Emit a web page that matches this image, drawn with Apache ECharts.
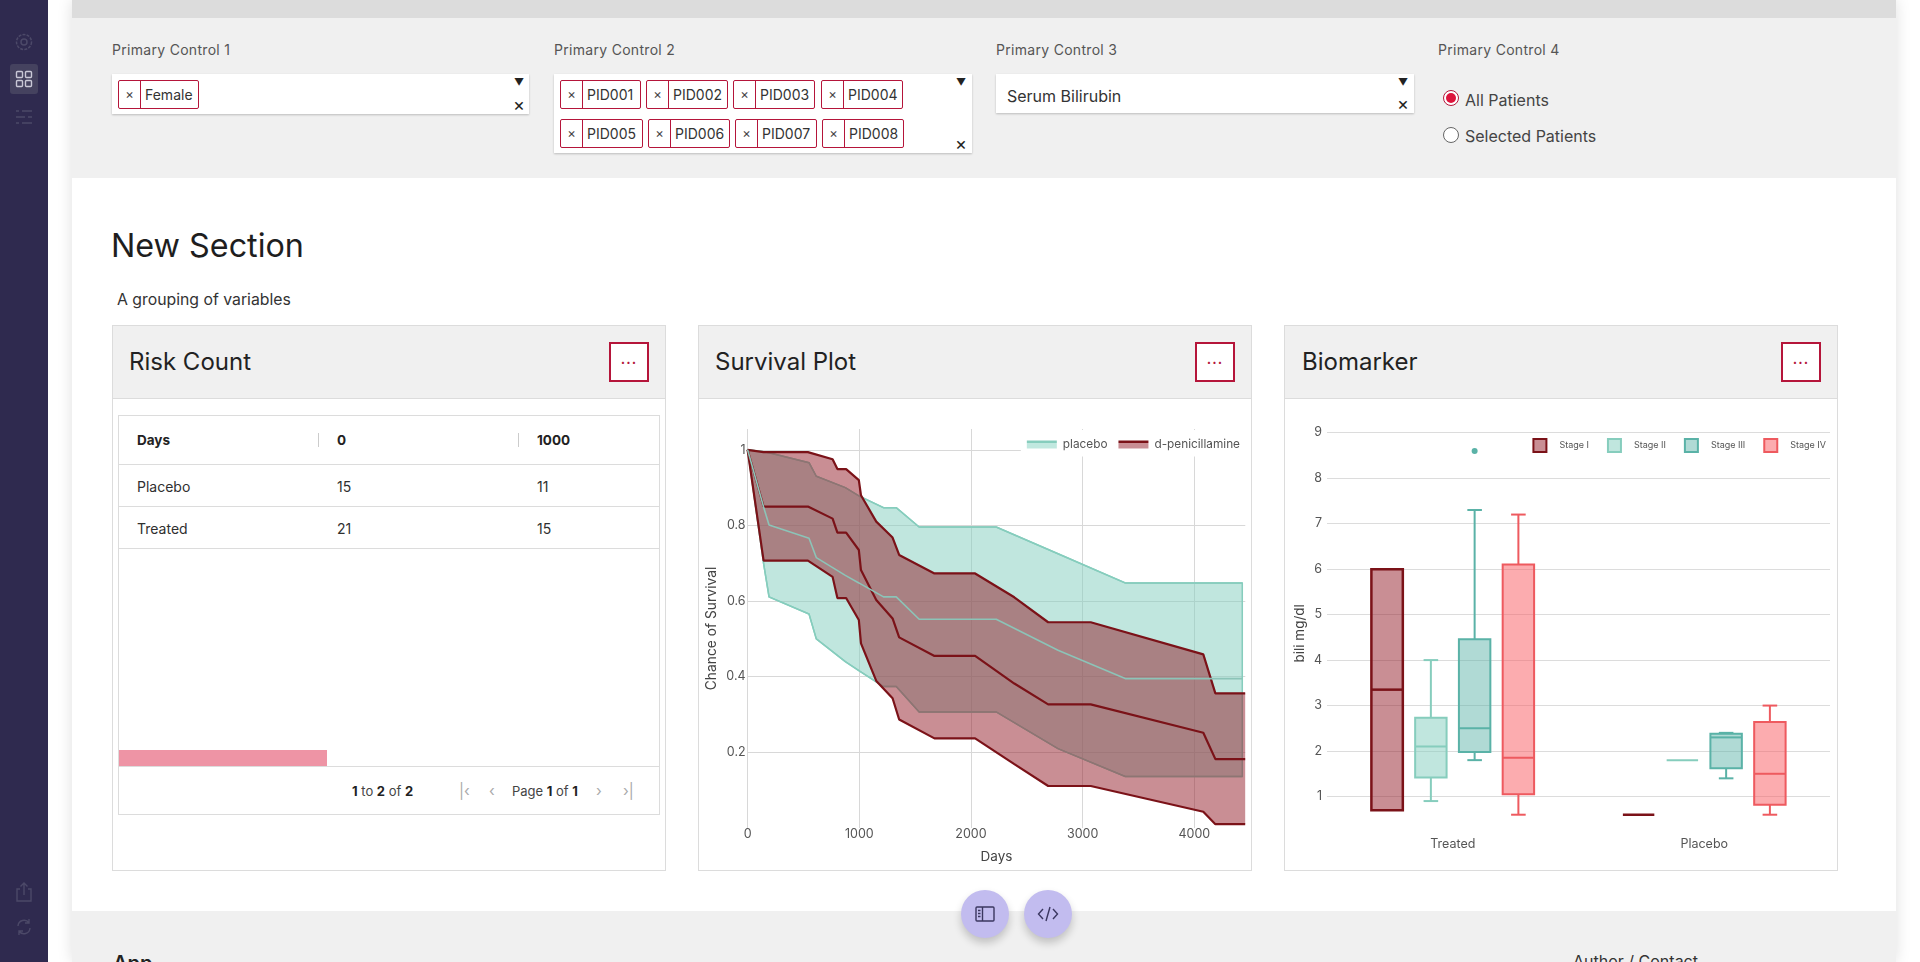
<!DOCTYPE html>
<html>
<head>
<meta charset="utf-8">
<title>Dashboard</title>
<script src="https://cdn.jsdelivr.net/npm/echarts@6/dist/echarts.min.js"></script>
<style>
html,body{margin:0;padding:0;width:1920px;height:962px;overflow:hidden;background:#fff;font-family:Inter,"Noto Sans",sans-serif;color:#2b2b2b}
div,span{box-sizing:border-box}
.abs,.abs *{position:absolute}
.t{white-space:nowrap;line-height:1}
#side{left:0;top:0;width:48px;height:962px;background:#2f2a4f}
#side .sel{left:10px;top:64px;width:28px;height:30px;background:#45425f;border-radius:3px}
#main{left:72px;top:0;width:1824px;height:962px;background:#fff;box-shadow:0 0 14px rgba(0,0,0,.13)}
#topbar{left:72px;top:0;width:1824px;height:18px;background:#dcdcdc}
#ctrl{left:72px;top:18px;width:1824px;height:160px;background:#f0f0f0}
#foot{left:72px;top:911px;width:1824px;height:51px;background:#f0f0f0}
.lab{font-size:14px;color:#555;top:43px;letter-spacing:.3px}
.select{background:#fff;box-shadow:0 1px 2px rgba(0,0,0,.22)}
.chip{height:29px;border:1px solid #b5153a;border-radius:2px;background:#fff}
.chip i{font-style:normal;left:0;top:0;bottom:0;width:21px;border-right:1px solid #b5153a;text-align:center;font-size:13px;line-height:27px;color:#444}
.chip b{font-weight:400;left:26px;top:0;font-size:14px;line-height:27px;color:#333;white-space:nowrap}
.arrow{font-size:10px;color:#222}
.clr{font-size:18px;color:#222}
.radio{width:16px;height:16px;border-radius:50%;border:1px solid #666;background:#fff}
.radio.on{border-color:#b5153a}
.radio.on:after{content:"";position:absolute;left:2px;top:2px;width:10px;height:10px;border-radius:50%;background:#dc143c}
.card{top:325px;height:546px;width:554px;border:1px solid #dcdcdc;background:#fff}
.card .head{left:0;top:0;right:0;height:73px;background:#f0f0f0;border-bottom:1px solid #dcdcdc}
.card .title{left:16px;top:24px;font-size:24px;color:#222}
.card .btn{top:16px;right:16px;width:40px;height:40px;border:2px solid #b5153a;background:#fff;color:#b5153a;text-align:center;font-size:14px;line-height:30px;letter-spacing:1px;font-weight:600}
.line{background:#dcdcdc;height:1px}
.cell{font-size:14px;color:#2f2f2f}
.hd{font-size:13.5px;font-weight:700;color:#222}
.pg{font-size:13px;color:#444}
.pg b{position:static;font-weight:700;color:#222}
.nav{color:#aaa;font-size:15px}
.fab{top:890px;width:48px;height:48px;border-radius:50%;background:#c2bcef;box-shadow:0 5px 9px rgba(0,0,0,.2)}
.chart{top:399px;height:470px}
</style>
</head>
<body>
<div class="abs" style="left:0;top:0;width:1920px;height:962px">
  <div id="main"></div>
  <div id="topbar"></div>
  <div id="ctrl"></div>
  <div id="foot"></div>
  <div id="side">
    <div class="sel"></div>
    <svg style="left:14px;top:32px" width="20" height="20" viewBox="0 0 20 20" fill="none" stroke="#4c4968" stroke-width="1.5"><circle cx="10" cy="10" r="3"/><circle cx="10" cy="10" r="7.5" stroke-dasharray="3 1.2"/></svg>
    <svg style="left:15px;top:70px" width="18" height="18" viewBox="0 0 18 18" fill="none" stroke="#c9c8d6" stroke-width="1.4"><rect x="1.5" y="1.5" width="6" height="6" rx="1"/><rect x="10.5" y="1.5" width="6" height="6" rx="1"/><rect x="1.5" y="10.5" width="6" height="6" rx="1"/><rect x="10.5" y="10.5" width="6" height="6" rx="1"/></svg>
    <svg style="left:15px;top:108px" width="18" height="18" viewBox="0 0 18 18" fill="none" stroke="#4c4968" stroke-width="1.4"><path d="M1 3h3M7 3h10M1 9h9M13 9h4M1 15h3M7 15h10"/></svg>
    <svg style="left:15px;top:882px" width="18" height="20" viewBox="0 0 18 20" fill="none" stroke="#4c4968" stroke-width="1.4"><path d="M5 7H2v12h14V7h-3M9 13V1M5.5 4.5L9 1l3.500 3.500"/></svg>
    <svg style="left:15px;top:918px" width="18" height="18" viewBox="0 0 18 18" fill="none" stroke="#4c4968" stroke-width="1.4"><path d="M3 8a6 6 0 0 1 11-3M15 10a6 6 0 0 1-11 3M14 1v4h-4M4 17v-4h4"/></svg>
  </div>

  <span class="t lab" style="left:112px">Primary Control 1</span>
  <span class="t lab" style="left:554px">Primary Control 2</span>
  <span class="t lab" style="left:996px">Primary Control 3</span>
  <span class="t lab" style="left:1438px">Primary Control 4</span>

  <div class="select" style="left:112px;top:74px;width:417px;height:40px"></div>
  <div class="chip" style="left:118px;top:80px;width:81px"><i>×</i><b>Female</b></div>
  <span class="t arrow" style="left:514px;top:77px">▼</span><span class="t clr" style="left:513px;top:96px">×</span>

  <div class="select" style="left:554px;top:74px;width:418px;height:79px"></div>
  <div class="chip" style="left:560px;top:80px;width:81px"><i>×</i><b>PID001</b></div>
  <div class="chip" style="left:646px;top:80px;width:82px"><i>×</i><b>PID002</b></div>
  <div class="chip" style="left:733px;top:80px;width:82px"><i>×</i><b>PID003</b></div>
  <div class="chip" style="left:821px;top:80px;width:82px"><i>×</i><b>PID004</b></div>
  <div class="chip" style="left:560px;top:119px;width:83px"><i>×</i><b>PID005</b></div>
  <div class="chip" style="left:648px;top:119px;width:82px"><i>×</i><b>PID006</b></div>
  <div class="chip" style="left:735px;top:119px;width:82px"><i>×</i><b>PID007</b></div>
  <div class="chip" style="left:822px;top:119px;width:82px"><i>×</i><b>PID008</b></div>
  <span class="t arrow" style="left:956px;top:77px">▼</span><span class="t clr" style="left:955px;top:135px">×</span>

  <div class="select" style="left:996px;top:74px;width:418px;height:39px"></div>
  <span class="t" style="left:1007px;top:88px;font-size:16px;color:#333">Serum Bilirubin</span>
  <span class="t arrow" style="left:1398px;top:77px">▼</span><span class="t clr" style="left:1397px;top:95px">×</span>

  <div class="radio on" style="left:1443px;top:90px"></div>
  <span class="t" style="left:1465px;top:92px;font-size:16px;color:#444">All Patients</span>
  <div class="radio" style="left:1443px;top:127px"></div>
  <span class="t" style="left:1465px;top:128px;font-size:16px;color:#444">Selected Patients</span>

  <span class="t" style="left:111px;top:230px;font-size:32.3px;color:#1e1e1e">New Section</span>
  <span class="t" style="left:117px;top:292px;font-size:15.8px;color:#333">A grouping of variables</span>

  <div class="card" style="left:112px">
    <div class="head"></div><span class="t title">Risk Count</span><div class="btn">...</div>
  </div>
  <div class="card" style="left:698px">
    <div class="head"></div><span class="t title">Survival Plot</span><div class="btn">...</div>
  </div>
  <div class="card" style="left:1284px">
    <div class="head"></div><span class="t title" style="left:17px">Biomarker</span><div class="btn">...</div>
  </div>

  <!-- table of the risk card -->
  <div style="left:118px;top:415px;width:542px;height:400px;border:1px solid #dcdcdc"></div>
  <div class="line" style="left:118px;top:464px;width:542px"></div>
  <div class="line" style="left:118px;top:506px;width:542px"></div>
  <div class="line" style="left:118px;top:548px;width:542px"></div>
  <div class="line" style="left:118px;top:766px;width:542px"></div>
  <div style="left:318px;top:433px;width:1px;height:14px;background:#ccc"></div>
  <div style="left:518px;top:433px;width:1px;height:14px;background:#ccc"></div>
  <span class="t hd" style="left:137px;top:434px">Days</span>
  <span class="t hd" style="left:337px;top:434px">0</span>
  <span class="t hd" style="left:537px;top:434px">1000</span>
  <span class="t cell" style="left:137px;top:480px">Placebo</span>
  <span class="t cell" style="left:337px;top:480px">15</span>
  <span class="t cell" style="left:537px;top:480px">11</span>
  <span class="t cell" style="left:137px;top:522px">Treated</span>
  <span class="t cell" style="left:337px;top:522px">21</span>
  <span class="t cell" style="left:537px;top:522px">15</span>
  <div style="left:119px;top:750px;width:208px;height:16px;background:#ee94a5"></div>
  <span class="t pg" style="left:352px;top:785px"><b>1</b> to <b>2</b> of <b>2</b></span>
  <span class="t nav" style="left:459px;top:783px">|‹</span>
  <span class="t nav" style="left:489px;top:783px">‹</span>
  <span class="t pg" style="left:512px;top:785px">Page <b>1</b> of <b>1</b></span>
  <span class="t nav" style="left:596px;top:783px">›</span>
  <span class="t nav" style="left:623px;top:783px">›|</span>

  <div id="survival" class="chart" style="left:699px;width:551px"></div>
  <div id="biomarker" class="chart" style="left:1286px;width:551px"></div>

  <div class="fab" style="left:961px"></div>
  <div class="fab" style="left:1024px"></div>
  <svg style="left:975px;top:906px" width="20" height="16" viewBox="0 0 20 16" fill="none" stroke="#3b3760" stroke-width="1.4"><rect x="1" y="1" width="18" height="14" rx="1"/><path d="M7.500 1v14M3 4.500h2.500M3 7.500h2.500M3 10.500h2.500"/></svg>
  <svg style="left:1037px;top:906px" width="22" height="16" viewBox="0 0 22 16" fill="none" stroke="#3b3760" stroke-width="1.4"><path d="M6 3L1.500 8 6 13M16 3l4.500 5-4.500 5M13 1L9 15"/></svg>

  <span class="t" style="left:113px;top:953px;font-size:20px;font-weight:600;color:#222">App</span>
  <span class="t" style="left:1573px;top:953px;font-size:16px;color:#333">Author / Contact</span>
</div>

<script>
// survival curves
var placeboDays  = [0, 143, 192, 550, 615, 875, 996, 1217, 1331, 1536, 2226, 2779, 3381, 4429];
var placeboUpper = [1, .995, .992, .966, .93, .90, .878, .847, .847, .796, .796, .725, .648, .648];
var placeboMean  = [1, .849, .801, .766, .715, .668, .648, .611, .611, .552, .552, .47, .395, .395];
var placeboLower = [1, .70, .611, .566, .50, .44, .416, .374, .374, .307, .307, .21, .136, .136];

var penDays  = [0, 143, 540, 761, 804, 882, 996, 1015, 1152, 1298, 1357, 1673, 2037, 2388, 2691, 3072, 4080, 4188, 4455];
var penUpper = [1, .994, .994, .975, .949, .949, .92, .88, .81, .768, .722, .673, .673, .61, .544, .544, .459, .356, .356];
var penMean  = [1, .85, .85, .818, .781, .781, .735, .682, .603, .554, .504, .455, .455, .382, .327, .327, .252, .182, .182];
var penLower = [1, .707, .707, .664, .608, .608, .55, .488, .389, .343, .287, .237, .237, .169, .111, .111, .043, .01, .01];

// biomarker boxes: min, q1, median, q3, max for Treated and Placebo
var arms = ['Treated', 'Placebo'];
var stageNames = ['Stage I', 'Stage II', 'Stage III', 'Stage IV'];
var stageI   = [[.7, .7, 3.35, 6, 6], [.6, .6, .6, .6, .6]];
var stageII  = [[.9, 1.42, 2.1, 2.73, 4], [1.8, 1.8, 1.8, 1.8, 1.8]];
var stageIII = [[1.8, 1.98, 2.5, 4.46, 7.3], [1.4, 1.62, 2.3, 2.38, 2.4]];
var stageIV  = [[.6, 1.05, 1.85, 6.1, 7.2], [.6, .82, 1.5, 2.64, 3]];
var stageIIIOutliers = [[0, 8.6]];

var font = 'Inter';
var tealLine = '#86cdbd', tealFill = 'rgba(129,205,190,0.5)', tealIcon = '#c0e8df';
var redLine = '#7b1218', redFill = 'rgba(147,29,41,0.5)', redIcon = '#c98e94';

function xy(days, vals) {
    return days.map(function (d, i) { return [d, vals[i]]; });
}
function band(name, days, upper, lower, color, z, edge) {
    return {
        name: name, type: 'custom', silent: true, z: z, data: [[0, 0]],
        renderItem: function (params, api) {
            var pts = xy(days, upper).concat(xy(days, lower).reverse()).map(function (p) { return api.coord(p); });
            return { type: 'polygon', shape: { points: pts }, style: { fill: color, stroke: edge, lineWidth: 1.5 } };
        }
    };
}
function curve(name, days, vals, color, width, z) {
    return { name: name, type: 'line', z: z, data: xy(days, vals), symbol: 'none', silent: true, lineStyle: { color: color, width: width } };
}
function legendIcon(line, fill) {
    return new echarts.graphic.LinearGradient(0, 0, 0, 1, [
        { offset: 0, color: line }, { offset: .3, color: line }, { offset: .3, color: fill }, { offset: 1, color: fill }
    ]);
}

var survival = echarts.init(document.getElementById('survival'));
survival.setOption({
    animation: false,
    grid: { left: 48.6, top: 30, right: 4.7, bottom: 41, outerBoundsMode: 'none' },
    legend: {
        right: 4, top: 31, padding: [8.5, 6, 6, 6], backgroundColor: '#fff',
        itemWidth: 30, itemHeight: 8, itemGap: 11,
        textStyle: { fontFamily: font, fontSize: 11.8, color: '#555', padding: [0, 0, 0, 1] },
        data: [
            { name: 'placebo', icon: 'rect', itemStyle: { color: legendIcon(tealLine, tealIcon) } },
            { name: 'd-penicillamine', icon: 'rect', itemStyle: { color: legendIcon(redLine, redIcon) } }
        ]
    },
    xAxis: {
        type: 'value', min: 0, max: 4456, interval: 1000,
        name: 'Days', nameLocation: 'middle', nameGap: 22, nameMoveOverlap: false,
        nameTextStyle: { fontFamily: font, fontSize: 13.5, color: '#444' },
        axisLine: { show: false }, axisTick: { show: false },
        axisLabel: { fontFamily: font, fontSize: 12.5, color: '#555', margin: 0, showMaxLabel: false, formatter: function (v) { return '' + v; } },
        splitLine: { showMaxLine: false, lineStyle: { color: '#d8d8d8' } }
    },
    yAxis: {
        type: 'value', min: 0, max: 1.055, interval: .2,
        name: 'Chance of Survival', nameLocation: 'middle', nameGap: 29, nameMoveOverlap: false,
        nameTextStyle: { fontFamily: font, fontSize: 13.8, color: '#444' },
        axisLine: { show: false }, axisTick: { show: false },
        axisLabel: { fontFamily: font, fontSize: 12.5, color: '#555', margin: 2, showMinLabel: false, showMaxLabel: false },
        splitLine: { showMinLine: false, showMaxLine: false, lineStyle: { color: '#d8d8d8' } }
    },
    series: [
        band('placebo', placeboDays, placeboUpper, placeboLower, tealFill, 1, tealLine),
        curve('placebo', placeboDays, placeboUpper, tealLine, 1.5, 1),
        curve('placebo', placeboDays, placeboLower, tealLine, 1.5, 1),
        band('d-penicillamine', penDays, penUpper, penLower, redFill, 2, null),
        curve('d-penicillamine', penDays, penUpper, redLine, 2.2, 2),
        curve('d-penicillamine', penDays, penMean, redLine, 2.2, 2),
        curve('d-penicillamine', penDays, penLower, redLine, 2.2, 2),
        curve('placebo', placeboDays, placeboMean, '#8cc4b8', 1.6, 3)
    ]
});

var stageStyles = [
    { stroke: '#7b1218', fill: 'rgba(147,29,41,0.5)', width: 2.5 },
    { stroke: '#86cdbd', fill: 'rgba(129,205,190,0.5)', width: 2 },
    { stroke: '#5ab2a7', fill: 'rgba(90,178,167,0.48)', width: 2 },
    { stroke: '#ee5a5f', fill: 'rgba(250,90,95,0.5)', width: 2 }
];
var boxWidth = 0.125, boxStep = 0.174, capWidth = 0.058;

function boxSeries(idx, rows, outliers) {
    var st = stageStyles[idx];
    return {
        name: stageNames[idx], type: 'custom', silent: true,
        data: rows.map(function (r, i) { return [i].concat(r); }),
        encode: { x: 0, y: [1, 2, 3, 4, 5] },
        renderItem: function (params, api) {
            var cat = api.value(0);
            var bw = api.size([1, 0])[0];
            var cx = api.coord([cat, 0])[0] + (idx - 1.5) * boxStep * bw;
            var hw = boxWidth * bw / 2, cap = capWidth * bw / 2;
            var y = function (v) { return api.coord([cat, v])[1]; };
            var lo = api.value(1), q1 = api.value(2), med = api.value(3), q3 = api.value(4), hi = api.value(5);
            var ln = { stroke: st.stroke, lineWidth: st.width, fill: null };
            var kids = [];
            function seg(x1, y1, x2, y2) {
                kids.push({ type: 'line', shape: { x1: x1, y1: y1, x2: x2, y2: y2 }, style: ln });
            }
            if (hi > q3) { seg(cx, y(hi), cx, y(q3)); seg(cx - cap, y(hi), cx + cap, y(hi)); }
            if (lo < q1) { seg(cx, y(q1), cx, y(lo)); seg(cx - cap, y(lo), cx + cap, y(lo)); }
            if (q3 > q1) {
                kids.push({ type: 'rect', shape: { x: cx - hw, y: y(q3), width: hw * 2, height: y(q1) - y(q3) },
                    style: { fill: st.fill, stroke: st.stroke, lineWidth: st.width } });
            }
            seg(cx - hw, y(med), cx + hw, y(med));
            (outliers || []).forEach(function (o) {
                if (o[0] === cat) {
                    kids.push({ type: 'circle', shape: { cx: cx, cy: y(o[1]), r: 3 }, style: { fill: st.stroke } });
                }
            });
            return { type: 'group', children: kids };
        }
    };
}

var biomarker = echarts.init(document.getElementById('biomarker'));
biomarker.setOption({
    animation: false,
    grid: { left: 41, top: 33.7, right: 7, bottom: 27, outerBoundsMode: 'none' },
    legend: {
        right: 6, top: 34, padding: [5, 5, 5, 13], backgroundColor: '#fff',
        icon: 'rect', itemWidth: 13, itemHeight: 13, itemGap: 18,
        textStyle: { fontFamily: font, fontSize: 9, color: '#555', padding: [0, 0, 0, 8] },
        data: stageNames.map(function (n, i) {
            return { name: n, itemStyle: { color: stageStyles[i].fill, borderColor: stageStyles[i].stroke, borderWidth: 2 } };
        })
    },
    xAxis: {
        type: 'category', data: arms,
        axisLine: { show: false }, axisTick: { show: false },
        axisLabel: { fontFamily: font, fontSize: 12.5, color: '#555', margin: -4 }
    },
    yAxis: {
        type: 'value', min: 0, max: 9, interval: 1,
        name: 'bili mg/dl', nameLocation: 'middle', nameGap: 20, nameMoveOverlap: false,
        nameTextStyle: { fontFamily: font, fontSize: 13.5, color: '#444', padding: [0, 0, 0, 8] },
        axisLine: { show: false }, axisTick: { show: false },
        axisLabel: { fontFamily: font, fontSize: 12.5, color: '#555', margin: 5, showMinLabel: false },
        splitLine: { showMinLine: false, lineStyle: { color: '#dcdcdc' } }
    },
    series: [
        boxSeries(0, stageI),
        boxSeries(1, stageII),
        boxSeries(2, stageIII, stageIIIOutliers),
        boxSeries(3, stageIV)
    ]
});
</script>
</body>
</html>
